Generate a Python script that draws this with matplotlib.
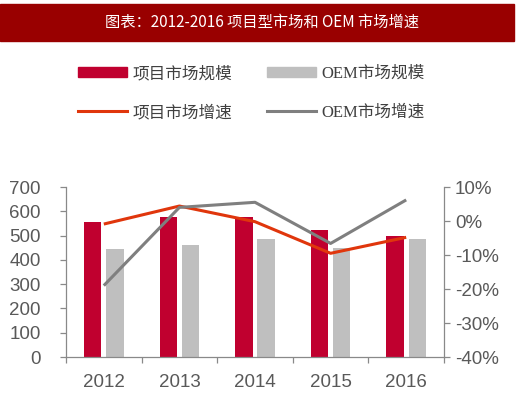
import numpy as np
import matplotlib
matplotlib.use("Agg")
import matplotlib.pyplot as plt
from matplotlib.patches import Rectangle, Patch
from matplotlib.lines import Line2D
from matplotlib.ticker import FuncFormatter

years = ["2012", "2013", "2014", "2015", "2016"]
proj_size = [555, 578, 578, 521, 500]
oem_size = [443, 460, 485, 447, 485]
proj_growth = [-0.9, 4.4, -0.2, -9.5, -4.8]
oem_growth = [-19.0, 4.0, 5.5, -6.6, 6.2]

red_bar = "#c0002f"
gray_bar = "#bfbfbf"
red_line = "#e0360c"
gray_line = "#7f7f7f"
axis_c = "#898989"
txt_c = "#595959"

cjk = ["Noto Sans CJK SC", "DejaVu Sans"]
lab_font = ["Liberation Serif", "Noto Sans CJK SC"]

fig = plt.figure(figsize=(5.2, 3.99), dpi=100)

# title bar
fig.patches.append(Rectangle((0.0, 1 - 41 / 399), 514 / 520, 37 / 399,
                             transform=fig.transFigure, color="#990000", zorder=0))
fig.text(262 / 520, 1 - 22 / 399, "图表：2012-2016 项目型市场和 OEM 市场增速",
         color="white", fontsize=11, family=cjk, ha="center", va="center")

ax = fig.add_axes([66 / 520, 1 - 357 / 399, 378 / 520, 170 / 399])
ax2 = ax.twinx()

x = np.arange(len(years))
w = 0.23
ax.bar(x - 0.147, proj_size, w, color=red_bar, zorder=2)
ax.bar(x + 0.147, oem_size, w, color=gray_bar, zorder=2)
ax.set_xlim(-0.5, 4.5)
ax.set_ylim(0, 700)
ax.set_yticks(range(0, 701, 100))

ax2.plot(x, proj_growth, color=red_line, lw=2.2, solid_capstyle="butt")
ax2.plot(x, oem_growth, color=gray_line, lw=2.2, solid_capstyle="butt")
ax2.set_ylim(-40, 10)
ax2.set_yticks(range(-40, 11, 10))
ax2.yaxis.set_major_formatter(FuncFormatter(lambda v, p: f"{v:.0f}%"))

for a in (ax, ax2):
    for s in a.spines.values():
        s.set_color(axis_c)
        s.set_linewidth(0.9)
    a.spines["top"].set_visible(False)
ax.spines["right"].set_visible(False)
ax2.spines["left"].set_visible(False)
ax2.spines["bottom"].set_visible(False)

ax.set_xticks(x)
ax.set_xticklabels(years)
ax.set_xticks(np.arange(-0.5, 5, 1), minor=True)
ax.tick_params(axis="x", which="major", length=0, pad=12, labelsize=13.5,
               labelcolor=txt_c)
ax.tick_params(axis="x", which="minor", length=4, width=0.9, color=axis_c)
ax.tick_params(axis="y", length=4, width=0.9, color=axis_c, pad=14,
               labelsize=13.5, labelcolor=txt_c)
ax2.tick_params(axis="y", length=4, width=0.9, color=axis_c, pad=4,
                labelsize=13.5, labelcolor=txt_c)
for t in ax.get_xticklabels() + ax.get_yticklabels() + ax2.get_yticklabels():
    t.set_family("Liberation Sans")

# legends
fs = 12
em = fs * 100 / 72
common = dict(ncol=2, frameon=False, loc="center left", borderpad=0, borderaxespad=0,
              handlelength=49 / em, handletextpad=6 / em, columnspacing=34 / em,
              prop={"family": lab_font, "size": fs}, labelcolor="#404040")
h1 = [Patch(color=red_bar), Patch(color=gray_bar)]
leg1 = fig.legend(h1, ["项目市场规模", "OEM市场规模"], handleheight=0.55,
                  bbox_to_anchor=(78 / 520, 1 - 74 / 399), **common)
h2 = [Line2D([], [], color=red_line, lw=2.2), Line2D([], [], color=gray_line, lw=2.2)]
leg2 = fig.legend(h2, ["项目市场增速", "OEM市场增速"],
                  bbox_to_anchor=(78 / 520, 1 - 113 / 399), **common)

fig.savefig("out.png", dpi=100)
